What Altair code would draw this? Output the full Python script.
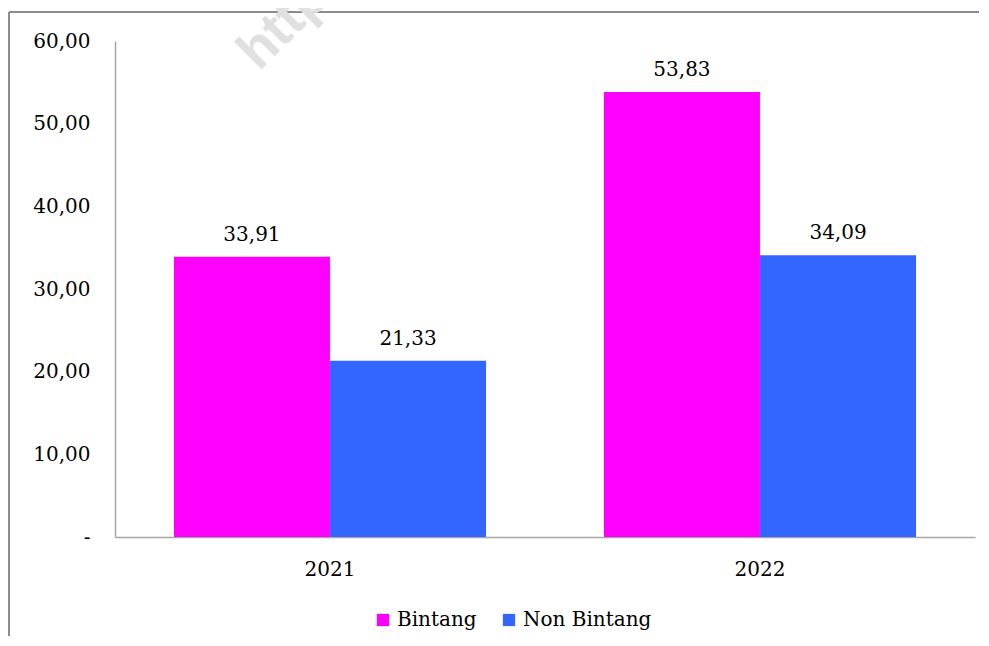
import altair as alt
import pandas as pd

years = ["2021", "2021", "2022", "2022"]
series = ["Bintang", "Non Bintang", "Bintang", "Non Bintang"]
values = [33.91, 21.33, 53.83, 34.09]
labels = ["33,91", "21,33", "53,83", "34,09"]
series_order = ["Bintang", "Non Bintang"]
colors = ["#FF00FF", "#3366FF"]

df = pd.DataFrame({"year": years, "series": series, "value": values, "label": labels})

W, H = 860, 496
FONT = "DejaVu Serif"

x = alt.X("year:N", title=None,
          scale=alt.Scale(paddingInner=0.274, paddingOuter=0.137),
          axis=alt.Axis(labelAngle=0, ticks=False, labelPadding=22, labelFontSize=20,
                        labelFont=FONT, labelColor="#000", domainColor="#a6a6a6", domainWidth=1.5))
y = alt.Y("value:Q", title=None,
          scale=alt.Scale(domain=[0, 60], nice=False),
          axis=alt.Axis(values=[0, 10, 20, 30, 40, 50, 60], grid=False, ticks=False,
                        labelPadding=25, labelFontSize=20, labelFont=FONT, labelColor="#000",
                        domainColor="#a6a6a6", domainWidth=1.5,
                        labelExpr="datum.value == 0 ? '-' : replace(format(datum.value, '.2f'), '.', ',')"))
color = alt.Color("series:N", scale=alt.Scale(domain=series_order, range=colors),
                  legend=alt.Legend(title=None, orient="none", direction="horizontal",
                                    legendX=258, legendY=569, symbolType="square", symbolSize=150,
                                    symbolStrokeWidth=0, labelFontSize=20, labelFont=FONT,
                                    labelColor="#000", columnPadding=22, labelOffset=4))
xo = alt.XOffset("series:N", sort=series_order)

bars = alt.Chart(df).mark_bar(size=156).encode(x=x, y=y, color=color, xOffset=xo)
text = alt.Chart(df).mark_text(baseline="bottom", dy=-12, fontSize=20, font=FONT, color="#000").encode(
    x=alt.X("year:N"), y=alt.Y("value:Q"), xOffset=xo, text="label:N")

frame_left = alt.Chart(df).mark_rule(color="#8c8c8c", strokeWidth=2).encode(
    x=alt.value(-106), y=alt.value(-29), y2=alt.value(H + 120))
frame_top = alt.Chart(df).mark_rule(color="#8c8c8c", strokeWidth=2).encode(
    x=alt.value(-106), x2=alt.value(W + 40), y=alt.value(-29))
watermark = alt.Chart(pd.DataFrame({"t": ["https://"]})).mark_text(
    angle=315, align="left", baseline="alphabetic", fontSize=54, fontWeight="bold",
    font="Liberation Sans", color="#e0e0e0").encode(x=alt.value(144), y=alt.value(31), text="t:N")

chart = alt.layer(frame_left, frame_top, watermark, bars, text).properties(
    width=W, height=H, padding={"left": 107, "top": 33, "right": 4, "bottom": 99},
    autosize=alt.AutoSizeParams(type="none"),
).configure_view(stroke=None)

chart.save("out.html", embed_options={"renderer": "svg", "actions": False})
